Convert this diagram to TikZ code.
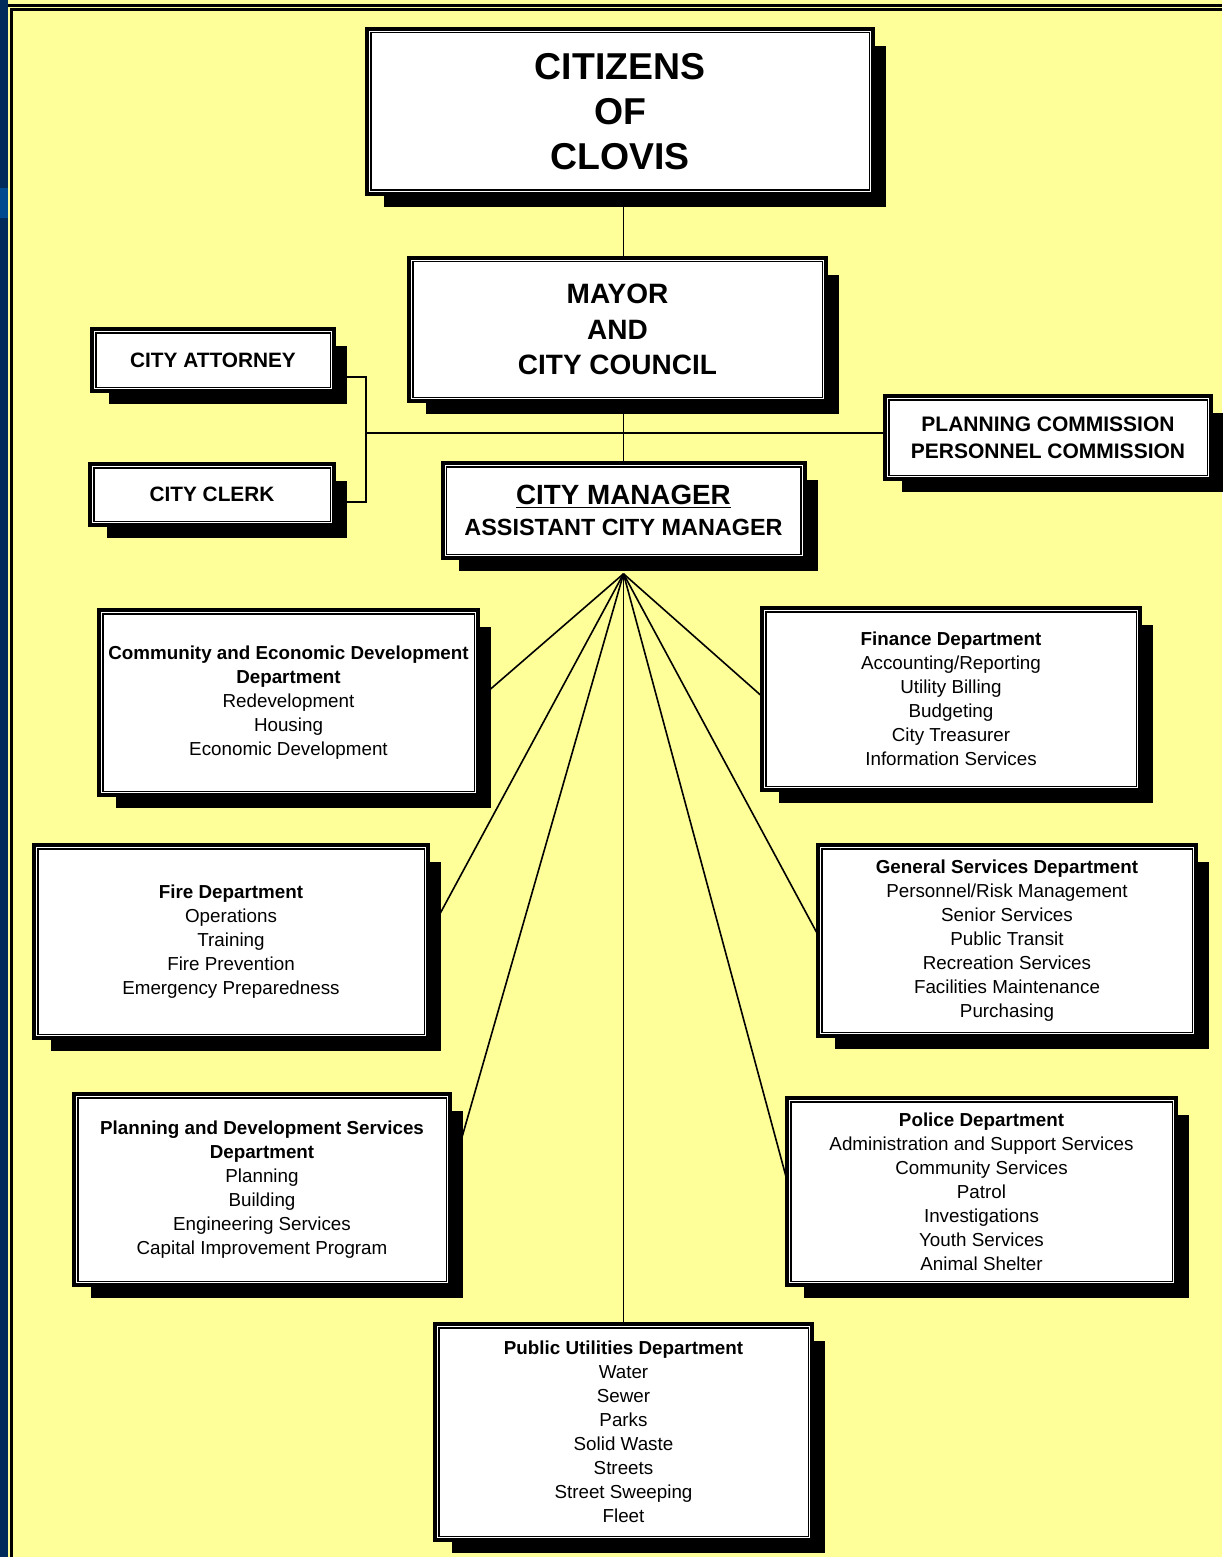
\documentclass[tikz,border=0pt]{standalone}
\usepackage{fontspec}
\setmainfont{Liberation Sans}
\pgfdeclarelayer{background}
\pgfsetlayers{background,main}
\definecolor{paper}{HTML}{FFFF99}
\definecolor{navy}{HTML}{002B5B}
\definecolor{lightnavy}{HTML}{004A8F}
\begin{document}
\begin{tikzpicture}[x=0.5pt,y=-0.5pt,
    orgbox/.style 2 args={draw=black, line width=0.75pt, fill=white, inner sep=0pt,
      minimum width=#1, minimum height=#2, align=center,
      preaction={fill=black, draw=black, line width=2pt,
        transform canvas={shift={(7.5pt,-7.5pt)}}},
      preaction={draw=black, line width=5.75pt},
      preaction={draw=white, line width=1.75pt}},
    dept/.style={font=\fontsize{9.4}{12}\selectfont},
    link/.style={draw=black, line width=0.8pt}]
  \useasboundingbox (0,0) rectangle (1222,1557);
  % top of the chart
  \node[orgbox={249.25pt}{78.75pt}, font=\bfseries\fontsize{18.7}{22.5}\selectfont]
    (cit) at (620,111.5) {CITIZENS\\OF\\CLOVIS};
  \node[orgbox={204.75pt}{67.75pt}, font=\bfseries\fontsize{14}{17.75}\selectfont]
    (mayor) at (617.5,329.5) {MAYOR\\AND\\CITY COUNCIL};
  \node[orgbox={117.25pt}{27.25pt}, font=\bfseries\fontsize{10.4}{13}\selectfont]
    (att) at (213,360) {CITY ATTORNEY};
  \node[orgbox={118.25pt}{26.75pt}, font=\bfseries\fontsize{10.4}{13}\selectfont]
    (clk) at (212,494.5) {CITY CLERK};
  \node[orgbox={159.25pt}{37.75pt}, font=\bfseries\fontsize{10.5}{13.5}\selectfont]
    (plan) at (1048,437.5) {PLANNING COMMISSION\\PERSONNEL COMMISSION};
  \node[orgbox={177.25pt}{43.75pt}, font=\bfseries]
    (cm) at (623.5,510.5) {{\fontsize{13.9}{16.5}\selectfont\underline{CITY MANAGER}}\\[3.5pt]
      {\fontsize{11.7}{16.5}\selectfont ASSISTANT CITY MANAGER}};
  % departments
  \node[orgbox={185.75pt}{88.75pt}, dept] (ced) at (288.5,702.5)
    {{\bfseries Community and Economic Development}\\{\bfseries Department}\\
     Redevelopment\\Housing\\Economic Development};
  \node[orgbox={185.25pt}{87.25pt}, dept] (fin) at (951,699)
    {{\bfseries Finance Department}\\Accounting/Reporting\\Utility Billing\\
     Budgeting\\City Treasurer\\Information Services};
  \node[orgbox={193.25pt}{92.75pt}, dept] (fire) at (231,941.5)
    {{\bfseries Fire Department}\\Operations\\Training\\Fire Prevention\\
     Emergency Preparedness};
  \node[orgbox={185.25pt}{91.75pt}, dept] (gs) at (1007,940.5)
    {{\bfseries General Services Department}\\Personnel/Risk Management\\
     Senior Services\\Public Transit\\Recreation Services\\
     Facilities Maintenance\\Purchasing};
  \node[orgbox={184.25pt}{91.75pt}, dept] (pd) at (262,1189.5)
    {{\bfseries Planning and Development Services}\\{\bfseries Department}\\
     Planning\\Building\\Engineering Services\\Capital Improvement Program};
  \node[orgbox={190.75pt}{89.75pt}, dept] (pol) at (981.5,1191.5)
    {{\bfseries Police Department}\\Administration and Support Services\\
     Community Services\\Patrol\\Investigations\\Youth Services\\Animal Shelter};
  \node[orgbox={184.75pt}{104.25pt}, dept] (pu) at (623.5,1432)
    {{\bfseries Public Utilities Department}\\Water\\Sewer\\Parks\\Solid Waste\\
     Streets\\Street Sweeping\\Fleet};
  \coordinate (fan) at ([yshift=-9.4pt]cm.south);
  \coordinate (brk) at (366,433);
  \begin{pgfonlayer}{background}
    % page and frame
    \fill[paper] (0,0) rectangle (1222,1557);
    \fill[navy] (0,0) rectangle (8,1557);
    \fill[lightnavy] (0,188) rectangle (8,218);
    \fill (8,4) rectangle (1222,7);
    \fill (10,8) rectangle (1222,11);
    \fill (10,8) rectangle (13,1557);
    % connectors
    \draw[link] (cit.south -| cm.north) -- (mayor.north -| cm.north);
    \draw[link] (mayor.south -| cm.north) -- (cm.north);
    \draw[link] ([yshift=-8.5pt]att.east) -| (brk) |- ([yshift=-3.75pt]clk.east);
    \draw[link] (brk) -- (plan.west |- brk);
    \foreach \d/\a in {ced/east, fin/west, fire/east, gs/west, pd/east, pol/west, pu/north}
      \draw[link] (fan) -- (\d.\a);
  \end{pgfonlayer}
\end{tikzpicture}
\end{document}
